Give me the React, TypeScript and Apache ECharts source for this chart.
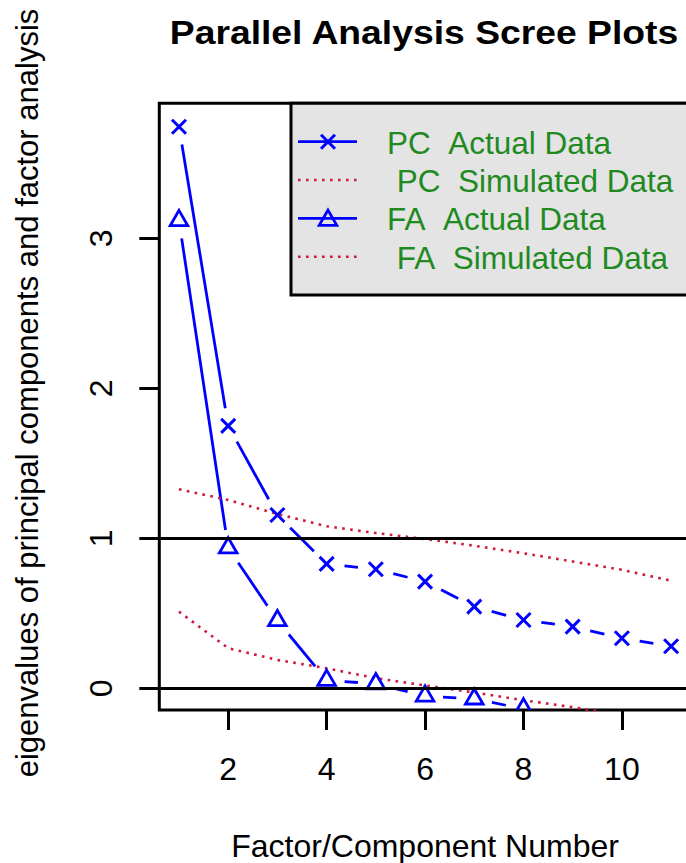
import React, { useEffect, useRef } from "react";
import * as echarts from "echarts";

const factorNumbers = [1, 2, 3, 4, 5, 6, 7, 8, 9, 10, 11];
const pcActual = [3.744, 1.749, 1.155, 0.829, 0.793, 0.711, 0.544, 0.455, 0.411, 0.333, 0.28];
const pcSimulated = [1.327, 1.255, 1.162, 1.08, 1.035, 0.995, 0.95, 0.9, 0.845, 0.79, 0.717];
const faActual = [3.118, 0.936, 0.451, 0.053, 0.03, -0.052, -0.071, -0.137];
const faSimulated = [0.511, 0.267, 0.189, 0.133, 0.067, 0.019, -0.028, -0.08, -0.126, -0.18];
const xTicks = [2, 4, 6, 8, 10];
const yTicks = [0, 1, 2, 3];
const referenceLines = [0, 1];
const legendLabels = ["PC\u00a0\u00a0Actual Data", "PC\u00a0\u00a0Simulated Data", "FA\u00a0\u00a0Actual Data", "FA\u00a0\u00a0Simulated Data"];
const legendKinds = ["cross", "dotted", "triangle", "dotted"];

const FONT = "'Liberation Sans', Arial, Helvetica, sans-serif";
const BLUE = "#0000ff";
const RED = "#d0183a";
const GREEN = "#1f8a1f";
const GAP = 18;

function pairs(values: number[]) {
  return values.map((v, i) => [factorNumbers[i], v]);
}
function segments(values: number[]) {
  const out: number[][] = [];
  for (let i = 0; i < values.length - 1; i++) {
    out.push([factorNumbers[i], values[i], factorNumbers[i + 1], values[i + 1]]);
  }
  return out;
}

function gappedLineSeries(values: number[]) {
  return {
    type: "custom",
    clip: true,
    silent: true,
    z: 3,
    data: segments(values),
    encode: { x: [0, 2], y: [1, 3] },
    renderItem: (params: any, api: any) => {
      const a = api.coord([api.value(0), api.value(1)]);
      const b = api.coord([api.value(2), api.value(3)]);
      const dx = b[0] - a[0];
      const dy = b[1] - a[1];
      const len = Math.hypot(dx, dy);
      if (len <= 2 * GAP) return { type: "group", children: [] };
      const ux = dx / len;
      const uy = dy / len;
      return {
        type: "line",
        shape: { x1: a[0] + ux * GAP, y1: a[1] + uy * GAP, x2: b[0] - ux * GAP, y2: b[1] - uy * GAP },
        style: { stroke: BLUE, lineWidth: 2.8, fill: null },
      };
    },
  };
}

function crossShape(cx: number, cy: number, h: number) {
  return [
    { type: "line", shape: { x1: cx - h, y1: cy - h, x2: cx + h, y2: cy + h }, style: { stroke: BLUE, lineWidth: 3 } },
    { type: "line", shape: { x1: cx - h, y1: cy + h, x2: cx + h, y2: cy - h }, style: { stroke: BLUE, lineWidth: 3 } },
  ];
}
function triangleShape(cx: number, cy: number) {
  const r = 10.2;
  const xc = 8.8;
  return {
    type: "polygon",
    shape: { points: [[cx, cy - r], [cx + xc, cy + r / 2], [cx - xc, cy + r / 2]] },
    style: { stroke: BLUE, lineWidth: 2.8, fill: null },
  };
}

function markerSeries(values: number[], kind: string) {
  return {
    type: "custom",
    clip: true,
    silent: true,
    z: 4,
    data: pairs(values),
    encode: { x: 0, y: 1 },
    renderItem: (params: any, api: any) => {
      const p = api.coord([api.value(0), api.value(1)]);
      if (kind === "cross") return { type: "group", children: crossShape(p[0], p[1], 7) };
      return triangleShape(p[0], p[1]);
    },
  };
}

function dottedSeries(values: number[]) {
  return {
    type: "line",
    data: pairs(values),
    showSymbol: false,
    symbol: "none",
    silent: true,
    z: 3,
    clip: true,
    lineStyle: { color: RED, width: 2.6, type: [2.6, 5.4] },
  };
}

export default function App() {
  const ref = useRef<HTMLDivElement>(null);
  useEffect(() => {
    const chart = echarts.init(ref.current!, null, { renderer: "svg" });

    const legendTop = 103.3;
    const rowY = [141.7, 180, 218.3, 256.7];
    const legendGraphics: any[] = [
      {
        type: "rect",
        shape: { x: 291, y: legendTop, width: 430, height: 191.7 },
        style: { fill: "#e3e4e3", stroke: "#000", lineWidth: 3 },
        z: 10,
      },
    ];
    legendLabels.forEach((label, i) => {
      const y = rowY[i];
      const kind = legendKinds[i];
      const dotted = kind === "dotted";
      legendGraphics.push({
        type: "line",
        z: 11,
        shape: { x1: 298, y1: y, x2: 357, y2: y },
        style: dotted
          ? { stroke: RED, lineWidth: 2.6, lineDash: [2.6, 5.4] }
          : { stroke: BLUE, lineWidth: 2.8 },
      });
      if (kind === "cross") {
        crossShape(328, y, 7).forEach((c) => legendGraphics.push({ ...c, z: 11 }));
      } else if (kind === "triangle") {
        legendGraphics.push({ ...triangleShape(328, y + 2), z: 11 });
      }
      legendGraphics.push({
        type: "text",
        z: 11,
        x: dotted ? 396.7 : 387,
        y: y + 1,
        style: {
          text: label,
          fill: GREEN,
          font: `31.5px ${FONT}`,
          textAlign: "left",
          textVerticalAlign: "middle",
        },
      });
    });

    const option: any = {
      animation: false,
      backgroundColor: "#ffffff",
      grid: {
        left: 159.3,
        top: 103.3,
        right: -4.8,
        bottom: 153,
        show: true,
        borderColor: "#000",
        borderWidth: 3,
        backgroundColor: "transparent",
        containLabel: false,
        outerBoundsMode: "none",
      },
      xAxis: {
        type: "value",
        min: 0.6,
        max: 11.4,
        name: "Factor/Component Number",
        nameLocation: "middle",
        nameGap: 120,
        nameTextStyle: { fontFamily: FONT, fontSize: 32, color: "#000" },
        axisLine: { show: false, onZero: false },
        splitLine: { show: false },
        axisTick: { show: true, inside: false, customValues: xTicks, length: 20, lineStyle: { color: "#000", width: 3 } },
        axisLabel: { customValues: xTicks, fontFamily: FONT, fontSize: 32, color: "#000", margin: 43 },
      },
      yAxis: {
        type: "value",
        min: -0.145,
        max: 3.9,
        axisLine: { show: false, onZero: false },
        splitLine: { show: false },
        axisTick: { show: true, inside: false, customValues: yTicks, length: 20, lineStyle: { color: "#000", width: 3 } },
        axisLabel: { customValues: yTicks, rotate: 90, fontFamily: FONT, fontSize: 32, color: "#000", margin: 42 },
      },
      graphic: [
        {
          type: "text",
          x: 424,
          y: 32,
          scaleX: 1.13,
          style: {
            text: "Parallel Analysis Scree Plots",
            font: `bold 33px ${FONT}`,
            fill: "#000",
            textAlign: "center",
            textVerticalAlign: "middle",
          },
        },
        {
          type: "text",
          x: 27,
          y: 393,
          rotation: Math.PI / 2,
          style: {
            text: "eigenvalues of principal components and factor analysis",
            font: `31px ${FONT}`,
            fill: "#000",
            textAlign: "center",
            textVerticalAlign: "middle",
          },
        },
        ...legendGraphics,
      ],
      series: [
        {
          type: "line",
          data: [],
          silent: true,
          z: 2,
          markLine: {
            silent: true,
            symbol: ["none", "none"],
            label: { show: false },
            lineStyle: { color: "#000", width: 3, type: "solid" },
            data: referenceLines.map((v) => ({ yAxis: v })),
          },
        },
        gappedLineSeries(pcActual),
        gappedLineSeries(faActual),
        dottedSeries(pcSimulated),
        dottedSeries(faSimulated),
        markerSeries(pcActual, "cross"),
        markerSeries(faActual, "triangle"),
      ],
    };
    chart.setOption(option);
    return () => chart.dispose();
  }, []);
  return (
    <div
      ref={ref}
      style={{ position: "absolute", left: 0, top: 0, width: 686, height: 863, background: "#fff" }}
    />
  );
}
